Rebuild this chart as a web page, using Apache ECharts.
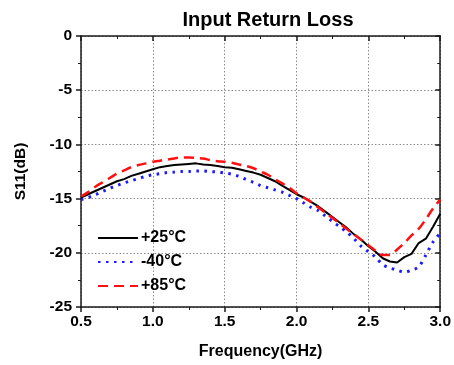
<!DOCTYPE html>
<html>
<head>
<meta charset="utf-8">
<script src="https://cdn.jsdelivr.net/npm/echarts@6/dist/echarts.min.js"></script>
<style>
  html, body { margin: 0; padding: 0; background: #fff; }
  #chart { width: 454px; height: 365px; }
</style>
</head>
<body>
<div id="chart"></div>
<script>
// Frequency sweep (GHz)
const freq = [
  0.50, 0.55, 0.60, 0.65, 0.70, 0.75, 0.80, 0.85, 0.90, 0.95,
  1.00, 1.05, 1.10, 1.15, 1.20, 1.25, 1.30, 1.35, 1.40, 1.45,
  1.50, 1.55, 1.60, 1.65, 1.70, 1.75, 1.80, 1.85, 1.90, 1.95,
  2.00, 2.05, 2.10, 2.15, 2.20, 2.25, 2.30, 2.35, 2.40, 2.45,
  2.50, 2.55, 2.60, 2.65, 2.70, 2.75, 2.80, 2.85, 2.90, 2.95, 3.00
];

// S11 (dB) at +25 °C
const s11Room = [
  -14.9, -14.6, -14.3, -14.0, -13.7, -13.4, -13.2, -12.9, -12.7, -12.5,
  -12.3, -12.1, -12.0, -11.9, -11.85, -11.8, -11.75, -11.85, -11.9, -12.0,
  -12.1, -12.15, -12.3, -12.45, -12.6, -12.8, -13.1, -13.4, -13.8, -14.2,
  -14.6, -14.9, -15.3, -15.7, -16.2, -16.7, -17.2, -17.7, -18.3, -18.8,
  -19.4, -19.9, -20.5, -20.8, -20.9, -20.4, -20.1, -19.1, -18.7, -17.6, -16.4
];

// S11 (dB) at -40 °C
const s11Cold = [
  -15.1, -14.9, -14.65, -14.35, -14.05, -13.8, -13.55, -13.35, -13.15, -12.95,
  -12.8, -12.7, -12.6, -12.55, -12.5, -12.5, -12.45, -12.45, -12.5, -12.55,
  -12.65, -12.75, -12.95, -13.25, -13.5, -13.8, -14.0, -14.2, -14.4, -14.7,
  -15.0, -15.4, -15.8, -16.1, -16.6, -17.1, -17.6, -18.1, -18.7, -19.4,
  -19.9, -20.4, -21.1, -21.4, -21.6, -21.8, -21.6, -21.3, -20.2, -19.0, -18.2
];

// S11 (dB) at +85 °C
const s11Hot = [
  -14.8, -14.4, -13.9, -13.5, -13.1, -12.7, -12.4, -12.1, -11.9, -11.75,
  -11.6, -11.5, -11.4, -11.3, -11.2, -11.2, -11.25, -11.3, -11.45, -11.55,
  -11.6, -11.7, -11.85, -12.0, -12.2, -12.5, -12.8, -13.2, -13.6, -14.0,
  -14.5, -14.9, -15.3, -15.8, -16.3, -16.8, -17.3, -17.8, -18.3, -18.8,
  -19.3, -19.8, -20.2, -20.2, -19.7, -19.1, -18.4, -17.8, -16.9, -15.9, -15.1
];

// Legend entries: temperature value (unit appended by the formatter)
const tempLabels = ['+25', '-40', '+85'];

const pairs = ys => freq.map((f, i) => [f, ys[i]]);

const FONT = 'Liberation Sans, Arial, sans-serif';
const AXIS_COLOR = '#1a1a1a';

function gridLine() {
  return { show: true, lineStyle: { color: '#8a8a8a', type: [1.5, 2], width: 1, opacity: 1 } };
}

const chart = echarts.init(document.getElementById('chart'), null, { renderer: 'canvas' });

chart.setOption({
  backgroundColor: '#fff',
  animation: false,
  title: {
    text: 'Input Return Loss',
    left: 263,
    textAlign: 'center',
    top: 5,
    textStyle: { fontFamily: FONT, fontWeight: 'bold', fontSize: 20, color: '#000' }
  },
  grid: { left: 81, right: 9, top: 36, bottom: 56 },
  legend: {
    orient: 'vertical',
    left: 97,
    top: 230,
    padding: 0,
    itemWidth: 40,
    itemHeight: 14,
    itemGap: 8,
    itemStyle: { opacity: 0 },
    formatter: name => name + '\u00B0C',
    textStyle: { fontFamily: FONT, fontWeight: 'bold', fontSize: 16, color: '#000', padding: [0, 0, 0, -2] },
    data: tempLabels
  },
  xAxis: [{
    type: 'value', min: 0.5, max: 3.0, interval: 0.5,
    name: 'Frequency(GHz)', nameLocation: 'middle', nameGap: 37,
    nameTextStyle: { fontFamily: FONT, fontWeight: 'bold', fontSize: 16, color: '#000' },
    axisLine: { show: true, onZero: false, lineStyle: { color: AXIS_COLOR, width: 1.5 } },
    axisTick: { show: true, inside: false, length: 5, lineStyle: { color: AXIS_COLOR, width: 1.5 } },
    minorTick: { show: true, splitNumber: 2, length: 3, lineStyle: { color: AXIS_COLOR, width: 1 } },
    axisLabel: { margin: 7, fontFamily: FONT, fontWeight: 'bold', fontSize: 15.5, color: '#000',
                 formatter: v => v.toFixed(1) },
    splitLine: gridLine()
  }, {
    type: 'value', min: 0.5, max: 3.0, interval: 0.5, position: 'top',
    axisLine: { show: true, onZero: false, lineStyle: { color: AXIS_COLOR, width: 1.5 } },
    axisTick: { show: true, inside: true, length: 5, lineStyle: { color: AXIS_COLOR, width: 1.5 } },
    minorTick: { show: true, splitNumber: 2, length: 3, lineStyle: { color: AXIS_COLOR, width: 1 } },
    axisLabel: { show: false },
    splitLine: { show: false }
  }],
  yAxis: [{
    type: 'value', min: -25, max: 0, interval: 5,
    name: 'S11(dB)', nameLocation: 'middle', nameGap: 52,
    nameTextStyle: { fontFamily: FONT, fontWeight: 'bold', fontSize: 15.5, color: '#000' },
    axisLine: { show: true, onZero: false, lineStyle: { color: AXIS_COLOR, width: 1.5 } },
    axisTick: { show: true, inside: false, length: 5, lineStyle: { color: AXIS_COLOR, width: 1.5 } },
    minorTick: { show: true, splitNumber: 2, length: 3, lineStyle: { color: AXIS_COLOR, width: 1 } },
    axisLabel: { margin: 9, fontFamily: FONT, fontWeight: 'bold', fontSize: 15.5, color: '#000' },
    splitLine: gridLine()
  }, {
    type: 'value', min: -25, max: 0, interval: 5, position: 'right',
    axisLine: { show: true, onZero: false, lineStyle: { color: AXIS_COLOR, width: 1.5 } },
    axisTick: { show: true, inside: true, length: 5, lineStyle: { color: AXIS_COLOR, width: 1.5 } },
    minorTick: { show: true, splitNumber: 2, length: 3, lineStyle: { color: AXIS_COLOR, width: 1 } },
    axisLabel: { show: false },
    splitLine: { show: false }
  }],
  series: [{
    name: tempLabels[0], type: 'line', data: pairs(s11Room),
    symbol: 'none', smooth: false, z: 3,
    lineStyle: { color: '#000', width: 2 },
    itemStyle: { color: '#000' }
  }, {
    name: tempLabels[1], type: 'line', data: pairs(s11Cold),
    symbol: 'none', smooth: 0.3, z: 2,
    lineStyle: { color: '#1a1aff', width: 3, type: [2.5, 5.5] },
    itemStyle: { color: '#1a1aff' }
  }, {
    name: tempLabels[2], type: 'line', data: pairs(s11Hot),
    symbol: 'none', smooth: 0.3, z: 4,
    lineStyle: { color: '#ff1010', width: 2.5, type: [10, 6] },
    itemStyle: { color: '#ff1010' }
  }]
});
</script>
</body>
</html>
